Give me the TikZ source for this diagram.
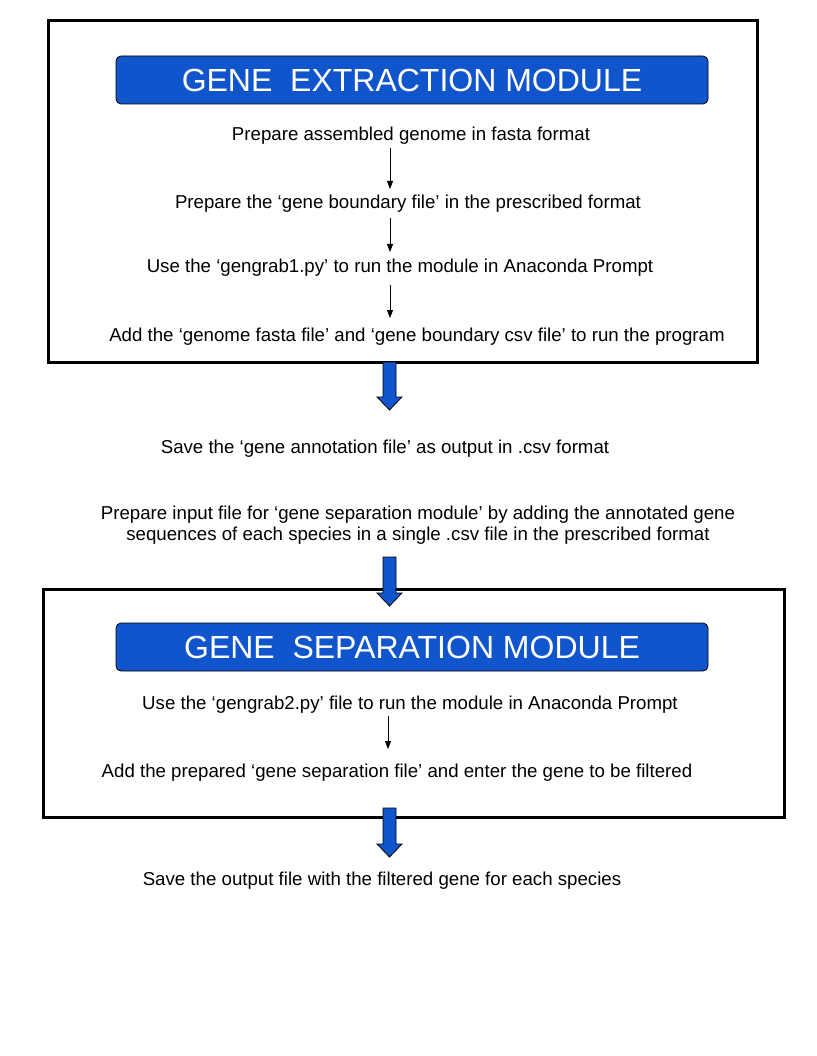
\documentclass[tikz,border=0pt]{standalone}
\usepackage{fontspec}
\setmainfont{Liberation Sans}
\usetikzlibrary{arrows.meta}
\definecolor{hdrblue}{HTML}{1155CC}
\tikzset{
  body/.style={inner sep=0pt, align=center, font=\fontsize{18.67}{21.5}\selectfont},
  hdr/.style={draw=black, line width=0.8pt, fill=hdrblue, rounded corners=5pt, text=white,
    font=\fontsize{32}{36}\selectfont, inner sep=0pt},
  modbox/.style={draw=black, line width=3pt},
  thinarrow/.style={line width=0.9pt, -{Triangle[length=8pt,width=6pt]}},
  blockarr/.style={fill=hdrblue, draw=black, line width=0.8pt, line join=miter}
}
\newcommand{\blockarrow}[3]{% x center, top y, tip y
  \draw[blockarr] (#1-6.5,#2) -- (#1+6.5,#2) -- (#1+6.5,#3-13) -- (#1+12.5,#3-13) -- (#1,#3)
    -- (#1-12.5,#3-13) -- (#1-6.5,#3-13) -- cycle;}
\begin{document}
\begin{tikzpicture}[x=1pt,y=-1pt]
\useasboundingbox (0,0) rectangle (816,1056);
% module 1
\draw[modbox] (48,21) rectangle (757,362);
\node[hdr, minimum width=592, minimum height=48] (h1) at (412,80) {GENE\ \ EXTRACTION MODULE};
\node[body] (t1) at (411,136) {Prepare assembled genome in fasta format};
\node[body] (t2) at (408,204) {Prepare the ‘gene boundary file’ in the prescribed format};
\node[body] (t3) at (400,268) {Use the ‘gengrab1.py’ to run the module in Anaconda Prompt};
\node[body] (t4) at (417,337) {Add the ‘genome fasta file’ and ‘gene boundary csv file’ to run the program};
\coordinate (a1s) at (390,148); \coordinate (a1e) at (390,189);
\coordinate (a2s) at (390,218); \coordinate (a2e) at (390,252);
\coordinate (a3s) at (390,285); \coordinate (a3e) at (390,318);
\draw[thinarrow] (a1s) -- (a1e);
\draw[thinarrow] (a2s) -- (a2e);
\draw[thinarrow] (a3s) -- (a3e);
\blockarrow{389.5}{362}{410}
\node[body] (t5) at (385,449) {Save the ‘gene annotation file’ as output in .csv format};
\node[body] (t6) at (418,525) {Prepare input file for ‘gene separation module’ by adding the annotated gene\\sequences of each species in a single .csv file in the prescribed format};
% module 2
\draw[modbox] (43,589) rectangle (784,817);
\blockarrow{389.5}{557}{606}
\node[hdr, minimum width=592, minimum height=48] (h2) at (412,647) {GENE\ \ SEPARATION MODULE};
\node[body] (t7) at (410,705) {Use the ‘gengrab2.py’ file to run the module in Anaconda Prompt};
\node[body] (t8) at (397,773) {Add the prepared ‘gene separation file’ and enter the gene to be filtered};
\coordinate (a4s) at (388,716); \coordinate (a4e) at (388,749);
\draw[thinarrow] (a4s) -- (a4e);
\blockarrow{389.5}{808}{857}
\node[body] (t9) at (382,881) {Save the output file with the filtered gene for each species};
\end{tikzpicture}
\end{document}
